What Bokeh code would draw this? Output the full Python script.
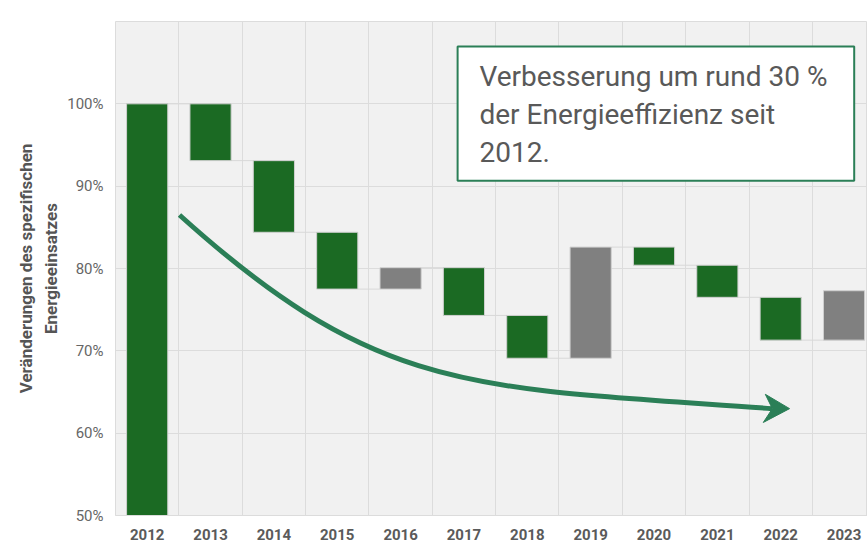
from bokeh.plotting import figure
from bokeh.models import FixedTicker, PrintfTickFormatter, BoxAnnotation, Label, ColumnDataSource
from bokeh.embed import file_html
from bokeh.resources import INLINE

# ---- data ----
years = ["2012", "2013", "2014", "2015", "2016", "2017", "2018", "2019", "2020", "2021", "2022", "2023"]
levels = [100.0, 93.1, 84.4, 77.5, 80.1, 74.3, 69.1, 82.6, 80.4, 76.5, 71.3, 77.3]
base_start = 0.0
y_ticks = [50, 60, 70, 80, 90, 100]
annotation_text = "Verbesserung um rund 30 %\nder Energieeffizienz seit\n2012."
y_label = "Veränderungen des spezifischen\nEnergieeinsatzes"

# trend arrow (cubic curve; x in category index units, y in %)
arrow_start = (0.510, 86.50)
arrow_ctrl0 = (3.666, 64.60)
arrow_ctrl1 = (5.134, 65.57)
arrow_end = (9.869, 62.98)
head_x = [10.14, 9.757, 9.868, 9.725]
head_y = [62.98, 64.72, 62.98, 61.30]

GREEN = "#1b6a23"
GRAY = "#808080"
ARROW = "#2b7f57"

# ---- derived ----
idx = list(range(len(years)))
bottoms = [base_start] + levels[:-1]
tops = levels[:]
colors = [GREEN] + [GREEN if levels[i] < levels[i - 1] else GRAY for i in range(1, len(levels))]
src = ColumnDataSource(dict(x=idx, bottom=bottoms, top=tops, color=colors))

bw = 0.65
conn = ColumnDataSource(dict(
    x0=[i + bw / 2 for i in idx[:-1]],
    x1=[i + 1 - bw / 2 for i in idx[:-1]],
    y=levels[:-1],
))

p = figure(width=867, height=543, output_backend="svg", toolbar_location=None,
           x_range=(-0.5, 11.37), y_range=(50, 110),
           min_border_left=115, min_border_top=21, min_border_bottom=28, min_border_right=0)
p.background_fill_color = "#f1f1f1"
p.border_fill_color = "white"
p.outline_line_color = "#dcdcdc"

p.segment(x0="x0", y0="y", x1="x1", y1="y", source=conn, line_color="#d8d8d8", line_width=1)
p.vbar(x="x", bottom="bottom", top="top", width=bw, fill_color="color", line_color="#d0d0d0",
       line_width=1, source=src)

# trend arrow
p.bezier(x0=[arrow_start[0]], y0=[arrow_start[1]], x1=[arrow_end[0]], y1=[arrow_end[1]],
         cx0=[arrow_ctrl0[0]], cy0=[arrow_ctrl0[1]], cx1=[arrow_ctrl1[0]], cy1=[arrow_ctrl1[1]],
         line_color=ARROW, line_width=5)
p.patch(head_x, head_y, fill_color=ARROW, line_color=ARROW, line_width=1)

# axes
p.xaxis.ticker = FixedTicker(ticks=idx)
p.xaxis.major_label_overrides = {i: y for i, y in zip(idx, years)}
p.xaxis.major_label_text_font = "Roboto"
p.xaxis.major_label_text_font_style = "bold"
p.xaxis.major_label_text_font_size = "15px"
p.xaxis.major_label_text_color = "#5a5a5a"
p.xaxis.major_tick_line_color = None
p.xaxis.minor_tick_line_color = None
p.xaxis.axis_line_color = "#dcdcdc"
p.xaxis.major_label_standoff = 7

p.yaxis.ticker = FixedTicker(ticks=y_ticks)
p.yaxis.formatter = PrintfTickFormatter(format="%d%%")
p.yaxis.major_label_text_font = "Roboto"
p.yaxis.major_label_text_font_size = "15px"
p.yaxis.major_label_text_color = "#666666"
p.yaxis.major_tick_line_color = None
p.yaxis.minor_tick_line_color = None
p.yaxis.axis_line_color = None
p.yaxis.major_label_standoff = 6
p.yaxis.axis_label = y_label
p.yaxis.axis_label_text_font = "Roboto"
p.yaxis.axis_label_text_font_style = "bold"
p.yaxis.axis_label_text_font_size = "17px"
p.yaxis.axis_label_text_line_height = 1.26
p.yaxis.axis_label_text_color = "#555555"
p.yaxis.axis_label_standoff = 3

p.xgrid.ticker = FixedTicker(ticks=[i - 0.5 for i in idx] + [11.5])
p.xgrid.grid_line_color = "#dcdcdc"
p.ygrid.ticker = FixedTicker(ticks=y_ticks)
p.ygrid.grid_line_color = "#dcdcdc"

# annotation box
box = BoxAnnotation(left=4.90, right=11.16, top=106.97, bottom=90.67,
                    fill_color="white", fill_alpha=1.0, line_color=ARROW, line_width=2, line_alpha=1.0)
p.add_layout(box)
lab = Label(x=5.245, y=105.3, text=annotation_text, text_font="Roboto", text_font_size="28px",
            text_color="#595959", text_baseline="top", text_align="left", text_line_height=1.145)
p.add_layout(lab)

open("out.html", "w").write(file_html(p, INLINE))
